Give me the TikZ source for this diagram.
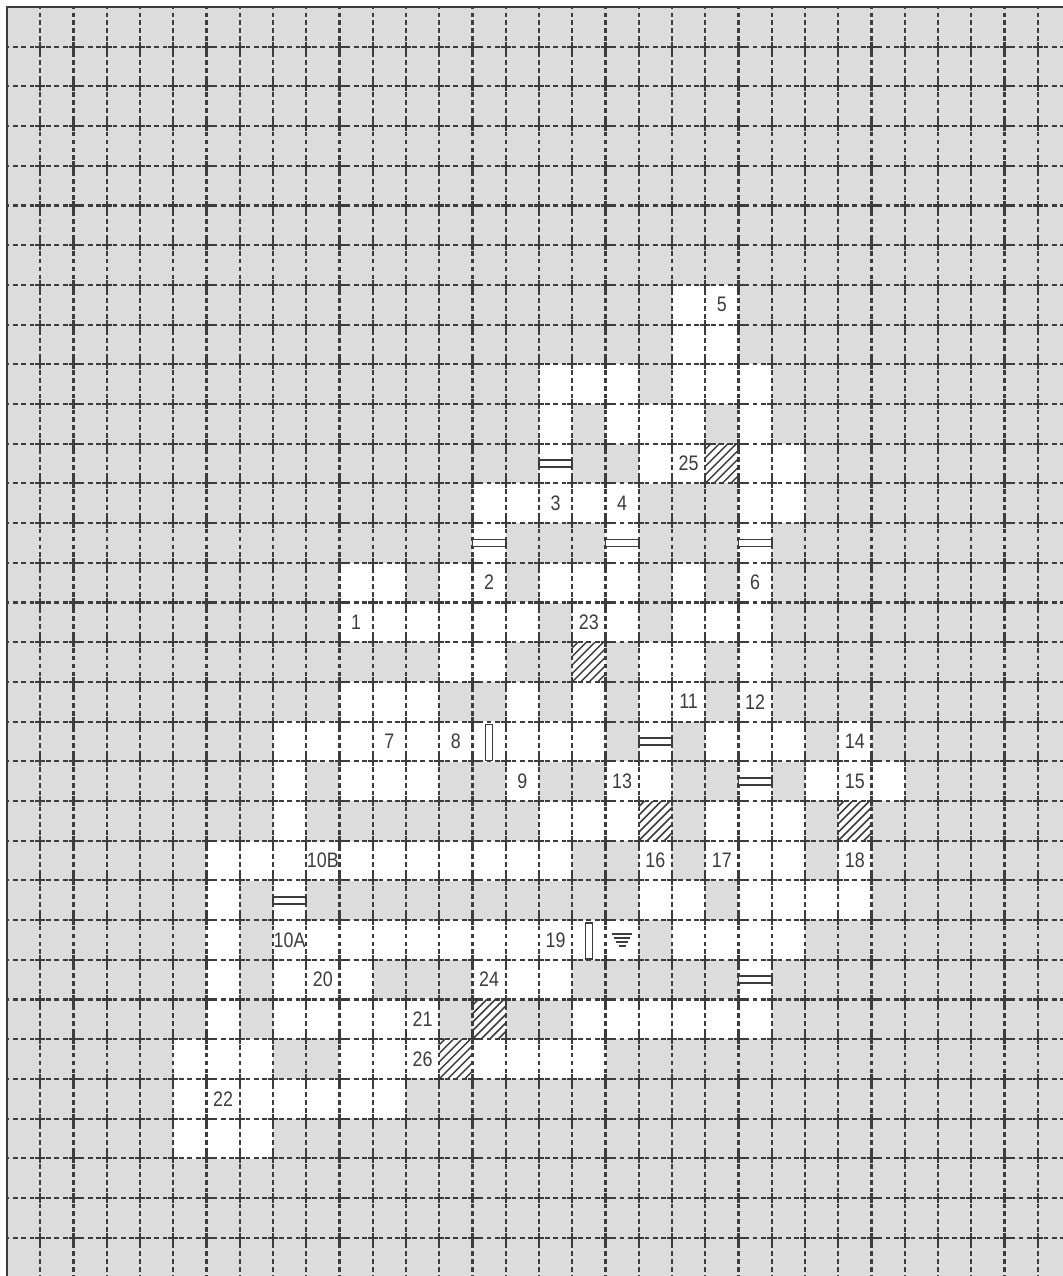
\documentclass[tikz,border=0pt]{standalone}
\usepackage{fontspec}
\newfontfamily\labfont[FakeStretch=0.85]{Liberation Sans}
\definecolor{bg}{RGB}{220,220,220}
\definecolor{ink}{RGB}{60,60,60}
\newcommand\labat[4]{\node[lab] (#1) at ({7+33.25*(#2+0.5)},{7+39.7*(#3+0.5)}) {#4};}
\newcommand\whitecell[2]{\fill[white] ({7+33.25*#1-0.2},{7+39.7*#2-0.2}) rectangle ++(33.65,40.1);}
\newcommand\hatchcell[2]{%
  \begin{scope}
    \clip ({7+33.25*#1},{7+39.7*#2}) rectangle ++(33.25,39.7);
    \fill[white] ({7+33.25*#1},{7+39.7*#2}) rectangle ++(33.25,39.7);
    \foreach \k in {-5,...,4} \draw[hatchline] ({7+33.25*#1+\k*8.5},{7+39.7*(#2+1)}) -- ++(46,-46);
  \end{scope}}
\newcommand\doorh[2]{\draw[door] ({7+33.25*#1},{7+39.7*#2+16.5}) rectangle ++(33.25,7);}
\newcommand\doorv[2]{\draw[door] ({7+33.25*(#1+0.5)-3.5},{7+39.7*#2+3}) rectangle ++(7,36);}
\begin{document}
\begin{tikzpicture}[x=0.5pt,y=-0.5pt,
  gridh/.style={ink,line width=1.05pt,dash pattern=on 2.4pt off 1.756pt,dash phase=1.2pt},
  gridv/.style={ink,line width=1.05pt,dash pattern=on 2.4pt off 1.57pt,dash phase=1.2pt},
  crossmark/.style={ink,line width=1.05pt},
  hatchline/.style={ink,line width=0.75pt},
  door/.style={draw=ink,fill=white,line width=0.85pt},
  lab/.style={text=ink,font=\labfont\fontsize{10.5}{11}\selectfont,inner sep=0pt}]
\useasboundingbox (0,0) rectangle (1063,1276);
\fill[white] (0,0) rectangle (1063,1276);
\fill[bg] (7,7) rectangle (1063,1276);
% open (white) cells, row / columns
\foreach \r/\cs in {
  7/{20,21},
  8/{20,21},
  9/{16,17,18,20,21,22},
  10/{16,18,19,20,22},
  11/{16,19,20,22,23},
  12/{14,15,16,17,18,22,23},
  13/{14,18,22},
  14/{10,11,13,14,16,17,18,20,22},
  15/{10,11,12,13,14,15,17,18,20,21,22},
  16/{13,14,19,20,22},
  17/{10,11,12,15,17,19,20,22},
  18/{8,9,10,11,12,13,14,15,16,17,19,21,22,23,25},
  19/{8,10,11,12,15,18,19,22,24,25,26},
  20/{8,16,17,18,21,22,23},
  21/{6,7,8,9,10,11,12,13,14,15,16,19,21,22,23,25},
  22/{6,8,19,20,22,23,24,25},
  23/{6,8,9,10,11,12,13,14,15,16,17,18,20,21,22,23},
  24/{6,8,9,10,14,15,16,22},
  25/{6,8,9,10,11,12,17,18,19,20,21,22},
  26/{5,6,7,10,11,12,14,15,16,17},
  27/{5,6,7,8,9,10,11},
  28/{5,6,7}}
  {\foreach \c in \cs {\whitecell{\c}{\r}}}
% hatched cells
\hatchcell{21}{11}
\hatchcell{17}{16}
\hatchcell{19}{20}
\hatchcell{25}{20}
\hatchcell{14}{25}
\hatchcell{13}{26}
% grid
\foreach \k in {1,...,31} \draw[gridh] (7,{7+39.7*\k}) -- (1063,{7+39.7*\k});
\foreach \k in {1,...,31} \draw[gridv] ({7+33.25*\k},7) -- ({7+33.25*\k},1276);
\foreach \i in {1,...,31} \foreach \j in {1,...,31}
  \draw[crossmark] ({7+33.25*\i-5},{7+39.7*\j}) -- ++(10,0) ({7+33.25*\i},{7+39.7*\j-5}) -- ++(0,10);
\draw[ink,line width=1.3pt] (7,1276) -- (7,7) -- (1063,7);
% doors
\doorh{16}{11}
\doorh{14}{13}
\doorh{18}{13}
\doorh{22}{13}
\doorh{19}{18}
\doorh{22}{19}
\doorh{8}{22}
\doorh{22}{24}
\doorv{14}{18}
\doorv{17}{23}
% stair / water symbol in cell (18,23)
\coordinate (sym) at ({7+33.25*18.5},{7+39.7*23.5});
\draw[ink,line width=0.75pt] ([shift={(-10,-6)}]sym) -- ++(20,0)
  ([shift={(-8,-2)}]sym) -- ++(16,0)
  ([shift={(-6,2)}]sym) -- ++(12,0)
  ([shift={(-3.5,6)}]sym) -- ++(7,0);
% labels
\labat{l1}{10}{15}{1}
\labat{l2}{14}{14}{2}
\labat{l3}{16}{12}{3}
\labat{l4}{18}{12}{4}
\labat{l5}{21}{7}{5}
\labat{l6}{22}{14}{6}
\labat{l7}{11}{18}{7}
\labat{l8}{13}{18}{8}
\labat{l9}{15}{19}{9}
\labat{l10b}{9}{21}{10B}
\labat{l10a}{8}{23}{10A}
\labat{l11}{20}{17}{11}
\labat{l12}{22}{17}{12}
\labat{l13}{18}{19}{13}
\labat{l14}{25}{18}{14}
\labat{l15}{25}{19}{15}
\labat{l16}{19}{21}{16}
\labat{l17}{21}{21}{17}
\labat{l18}{25}{21}{18}
\labat{l19}{16}{23}{19}
\labat{l20}{9}{24}{20}
\labat{l21}{12}{25}{21}
\labat{l22}{6}{27}{22}
\labat{l23}{17}{15}{23}
\labat{l24}{14}{24}{24}
\labat{l25}{20}{11}{25}
\labat{l26}{12}{26}{26}
\end{tikzpicture}
\end{document}
